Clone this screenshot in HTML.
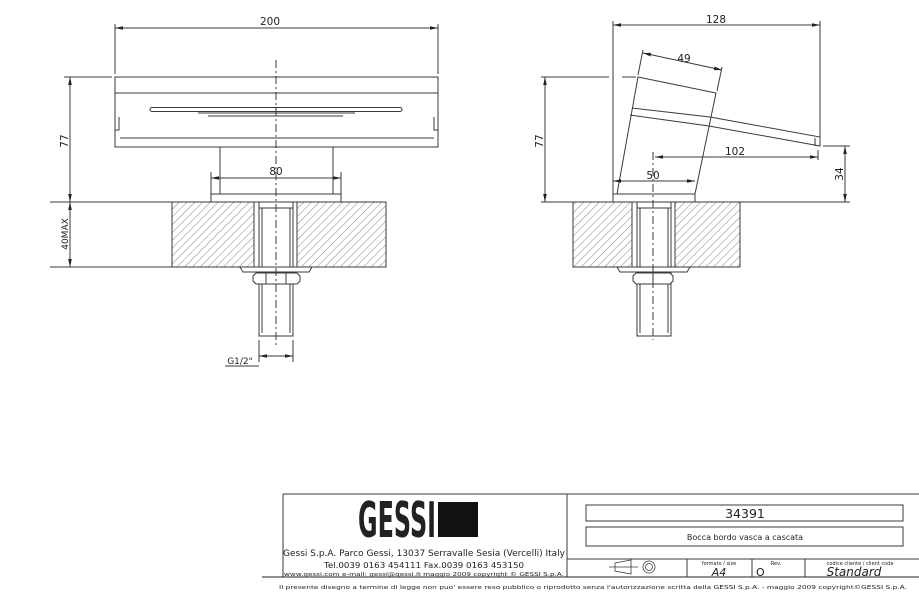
<!DOCTYPE html>
<html><head><meta charset="utf-8"><style>
html,body{margin:0;padding:0;background:#fff;}
svg{display:block;}
text{font-family:"DejaVu Sans","Liberation Sans",sans-serif;fill:#222;}
</style></head><body>
<svg width="919" height="593" viewBox="0 0 919 593" xmlns="http://www.w3.org/2000/svg">
<defs>
<pattern id="h" width="5.5" height="5.5" patternUnits="userSpaceOnUse" patternTransform="rotate(45)">
<line x1="0" y1="0" x2="0" y2="6" stroke="#666" stroke-width="0.8"/>
</pattern>
<marker id="a" markerWidth="8" markerHeight="6" refX="8" refY="3" orient="auto-start-reverse" markerUnits="userSpaceOnUse">
<path d="M0,1.2 L8,3 L0,4.8 z" fill="#222"/>
</marker>
</defs>
<g stroke="#3a3a3a" stroke-width="1" fill="none">
<!-- LEFT VIEW -->
<line x1="115" y1="28" x2="438" y2="28" marker-start="url(#a)" marker-end="url(#a)"/>
<line x1="115" y1="24" x2="115" y2="74"/>
<line x1="438" y1="24" x2="438" y2="74"/>
<rect x="115" y="77" width="323" height="70" fill="#fff"/>
<line x1="115" y1="93" x2="438" y2="93"/>
<line x1="120" y1="138" x2="434" y2="138"/>
<rect x="150" y="107.5" width="252" height="4" rx="2"/>
<line x1="198" y1="113" x2="355" y2="113"/>
<line x1="208" y1="116" x2="343" y2="116"/>
<path d="M119,117 v13 h-4 M434,117 v13 h4"/>
<rect x="220" y="147" width="113" height="47" fill="#fff"/>
<rect x="211" y="194" width="130" height="8" fill="#fff"/>
<line x1="211" y1="178" x2="341" y2="178" marker-start="url(#a)" marker-end="url(#a)"/>
<line x1="211" y1="172" x2="211" y2="194"/>
<line x1="341" y1="172" x2="341" y2="194"/>
<rect x="172" y="202" width="82" height="65" fill="url(#h)"/>
<rect x="297" y="202" width="89" height="65" fill="url(#h)"/>
<rect x="172" y="202" width="214" height="65"/>
<rect x="254" y="202" width="43" height="65" fill="#fff"/>
<line x1="254" y1="202" x2="254" y2="267"/><line x1="297" y1="202" x2="297" y2="267"/>
<rect x="259" y="202" width="34" height="134" fill="#fff"/>
<line x1="259" y1="208" x2="293" y2="208"/>
<line x1="262" y1="208" x2="262" y2="333"/><line x1="290" y1="208" x2="290" y2="333"/>
<path d="M240,267 h72 l-3,5 h-66 z" fill="#fff"/>
<path d="M256,273 h41 l3,3 v5 l-3,3 h-41 l-3,-3 v-5 z" fill="#fff"/>
<line x1="266" y1="273" x2="266" y2="284"/><line x1="286" y1="273" x2="286" y2="284"/>
<line x1="276" y1="60" x2="276" y2="345" stroke-dasharray="8,3,2,3"/>
<line x1="70" y1="77" x2="70" y2="202" marker-start="url(#a)" marker-end="url(#a)"/>
<line x1="70" y1="202" x2="70" y2="267" marker-start="url(#a)" marker-end="url(#a)"/>
<line x1="64" y1="77" x2="112" y2="77"/>
<line x1="50" y1="202" x2="172" y2="202"/>
<line x1="50" y1="267" x2="172" y2="267"/>
<line x1="259" y1="340" x2="259" y2="362"/><line x1="293" y1="340" x2="293" y2="362"/>
<line x1="259" y1="356" x2="293" y2="356" marker-start="url(#a)" marker-end="url(#a)"/>
<line x1="225" y1="366" x2="259" y2="366"/>
<!-- RIGHT VIEW -->
<line x1="613" y1="25" x2="820" y2="25" marker-start="url(#a)" marker-end="url(#a)"/>
<line x1="613" y1="21" x2="613" y2="202"/>
<line x1="820" y1="21" x2="820" y2="138"/>
<path d="M638,77 L716,93 L695,194 L617,194 Z" fill="#fff"/>
<path d="M632,108 L710,117 M630,115 L709,126"/>
<path d="M710,117 L820,137 L820,146 L709,126"/>
<line x1="815" y1="138" x2="815" y2="146"/>
<line x1="643" y1="53" x2="722" y2="70" marker-start="url(#a)" marker-end="url(#a)"/>
<line x1="643" y1="50" x2="638" y2="75"/><line x1="722" y1="67" x2="717" y2="91"/>
<rect x="613" y="194" width="82" height="8" fill="#fff"/>
<line x1="545" y1="77" x2="545" y2="202" marker-start="url(#a)" marker-end="url(#a)"/>
<line x1="541" y1="77" x2="609" y2="77"/><line x1="622" y1="77" x2="636" y2="77"/>
<line x1="655" y1="157" x2="818" y2="157" marker-start="url(#a)" marker-end="url(#a)"/>
<line x1="818" y1="150" x2="818" y2="160"/>
<line x1="613" y1="181" x2="695" y2="181" marker-start="url(#a)" marker-end="url(#a)"/>
<line x1="845" y1="146" x2="845" y2="202" marker-start="url(#a)" marker-end="url(#a)"/>
<line x1="823" y1="146" x2="850" y2="146"/>
<line x1="541" y1="202" x2="850" y2="202"/>
<rect x="573" y="202" width="59" height="65" fill="url(#h)"/>
<rect x="675" y="202" width="65" height="65" fill="url(#h)"/>
<rect x="573" y="202" width="167" height="65"/>
<rect x="632" y="202" width="43" height="65" fill="#fff"/>
<rect x="637" y="202" width="34" height="134" fill="#fff"/>
<line x1="637" y1="208" x2="671" y2="208"/>
<line x1="640" y1="208" x2="640" y2="333"/><line x1="668" y1="208" x2="668" y2="333"/>
<path d="M617,267 h73 l-3,5 h-67 z" fill="#fff"/>
<path d="M636,273 h34 l3,3 v5 l-3,3 h-34 l-3,-3 v-5 z" fill="#fff"/>
<line x1="653" y1="273" x2="653" y2="284"/>
<line x1="653" y1="152" x2="653" y2="340" stroke-dasharray="8,3,2,3"/>
<!-- TITLE BLOCK -->
<line x1="283" y1="494" x2="919" y2="494"/>
<line x1="283" y1="494" x2="283" y2="577"/>
<line x1="567" y1="494" x2="567" y2="577"/>
<line x1="262" y1="577" x2="919" y2="577" stroke="#222"/>
<rect x="586" y="505" width="317" height="16"/>
<rect x="586" y="527" width="317" height="19"/>
<line x1="567" y1="559" x2="919" y2="559"/>
<line x1="687" y1="559" x2="687" y2="577"/>
<line x1="752" y1="559" x2="752" y2="577"/>
<line x1="805" y1="559" x2="805" y2="577"/>
<path d="M615,563 L631,560 V574 L615,571 Z M609,567 H638" stroke-width="0.8"/>
<circle cx="649" cy="567" r="6" stroke-width="0.8"/><circle cx="649" cy="567" r="3.5" stroke-width="0.8"/>
</g>
<rect x="438" y="502" width="40" height="35" fill="#111"/>
<text transform="translate(397,537) scale(1,1.75)" font-size="28" font-weight="bold" text-anchor="middle" textLength="78" lengthAdjust="spacingAndGlyphs" font-family="Liberation Sans Narrow,Liberation Sans,sans-serif" fill="#111">GESSI</text>
<g font-size="10.5">
<text x="270" y="25" text-anchor="middle">200</text>
<text x="276" y="175" text-anchor="middle">80</text>
<text x="240" y="364" text-anchor="middle" font-size="9">G1/2"</text>
<text transform="translate(68,141) rotate(-90)" text-anchor="middle">77</text>
<text transform="translate(68,234) rotate(-90)" text-anchor="middle" font-size="9">40MAX</text>
<text x="716" y="23" text-anchor="middle">128</text>
<text x="684" y="62" text-anchor="middle">49</text>
<text x="735" y="155" text-anchor="middle">102</text>
<text x="653" y="179" text-anchor="middle">50</text>
<text transform="translate(543,141) rotate(-90)" text-anchor="middle">77</text>
<text transform="translate(843,174) rotate(-90)" text-anchor="middle">34</text>
</g>
<text x="745" y="518" font-size="12.5" text-anchor="middle">34391</text>
<text x="745" y="540" font-size="8" text-anchor="middle">Bocca bordo vasca a cascata</text>
<text x="719" y="565" font-size="5" text-anchor="middle">formato / size</text>
<text x="776" y="565" font-size="5" text-anchor="middle">Rev.</text>
<text x="860" y="565" font-size="5" text-anchor="middle">codice cliente / client code</text>
<text x="719" y="576" font-size="11" font-style="italic" text-anchor="middle">A4</text>
<text x="756" y="576" font-size="11">O</text>
<text x="854" y="576" font-size="12" font-style="italic" text-anchor="middle">Standard</text>
<text x="424" y="556" font-size="8.5" text-anchor="middle" textLength="282" lengthAdjust="spacingAndGlyphs">Gessi S.p.A. Parco Gessi, 13037 Serravalle Sesia (Vercelli) Italy</text>
<text x="424" y="568" font-size="8" text-anchor="middle" textLength="200" lengthAdjust="spacingAndGlyphs">Tel.0039 0163 454111 Fax.0039 0163 453150</text>
<text x="424" y="576" font-size="5.5" text-anchor="middle" textLength="280" lengthAdjust="spacingAndGlyphs">www.gessi.com e-mail: gessi@gessi.it maggio 2009 copyright © GESSI S.p.A.</text>
<text x="593" y="589" font-size="5.5" text-anchor="middle" textLength="628" lengthAdjust="spacingAndGlyphs">Il presente disegno a termine di legge non puo' essere reso pubblico o riprodotto senza l'autorizzazione scritta della GESSI S.p.A. - maggio 2009 copyright©GESSI S.p.A.</text>
</svg>
</body></html>
